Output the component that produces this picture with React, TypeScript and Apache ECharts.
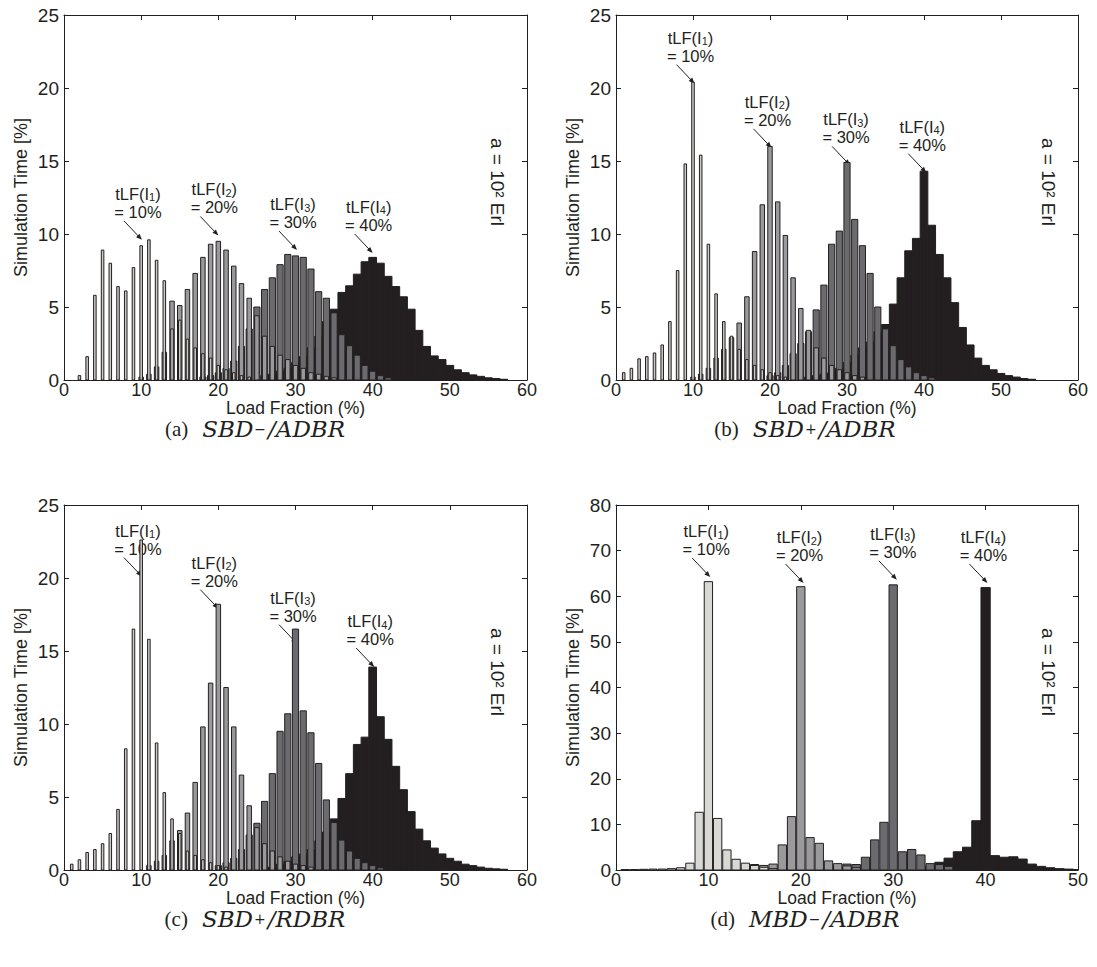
import React, { useEffect, useRef } from "react";
import * as echarts from "echarts";

type P = [number, number];

// ---------- data (load fraction %, simulation time %) ----------
const a_I1: P[] = [[2,0.3],[3,1.6],[4,5.8],[5,8.9],[6,8.0],[7,6.4],[8,6.1],[9,7.7],[10,9.2],[11,9.6],[12,8.2],[13,6.8],[14,3.5],[15,4.1],[16,2.8],[17,2.2],[18,1.8],[19,1.5],[20,1.0],[21,0.7],[22,0.5],[23,0.3],[24,0.2]];
const a_I2: P[] = [[10,0.2],[11,0.4],[12,0.9],[13,1.9],[14,5.4],[15,5.1],[16,6.2],[17,7.3],[18,8.4],[19,9.3],[20,9.5],[21,8.9],[22,7.8],[23,6.6],[24,5.6],[25,4.4],[26,3.0],[27,2.3],[28,1.7],[29,1.4],[30,1.0],[31,0.8],[32,0.5],[33,0.4],[34,0.25],[35,0.15]];
const a_I3: P[] = [[18,0.2],[19,0.3],[20,0.5],[21,0.8],[22,1.3],[23,2.3],[24,3.5],[25,5.0],[26,6.2],[27,7.0],[28,7.9],[29,8.6],[30,8.5],[31,8.4],[32,7.6],[33,6.05],[34,5.6],[35,4.6],[36,3.1],[37,2.35],[38,1.7],[39,1.0],[40,0.6],[41,0.3],[42,0.15]];
const a_I4: P[] = [[26,0.3],[27,0.4],[28,0.6],[29,0.8],[30,1.2],[31,1.6],[32,2.2],[33,3.0],[34,4.0],[35,4.85],[36,6.0],[37,6.45],[38,7.25],[39,8.1],[40,8.4],[41,8.0],[42,7.1],[43,6.4],[44,5.7],[45,4.85],[46,3.4],[47,2.3],[48,1.65],[49,1.4],[50,1.0],[51,0.7],[52,0.5],[53,0.35],[54,0.25],[55,0.15],[56,0.1],[57,0.05]];

const b_I1: P[] = [[1,0.5],[2,0.8],[3,1.45],[4,1.6],[5,1.85],[6,2.4],[7,4.0],[8,7.5],[9,14.8],[10,20.4],[11,15.4],[12,9.3],[13,5.9],[14,4.0],[15,3.0],[16,2.1],[17,1.4],[18,1.0],[19,0.7],[20,0.5],[21,0.3],[22,0.2]];
const b_I2: P[] = [[10,0.2],[11,0.4],[12,0.8],[13,1.5],[14,2.1],[15,2.9],[16,3.9],[17,5.7],[18,8.8],[19,12.0],[20,16.0],[21,12.2],[22,9.9],[23,7.0],[24,4.9],[25,3.4],[26,2.2],[27,1.5],[28,1.0],[29,0.7],[30,0.5],[31,0.3],[32,0.2]];
const b_I3: P[] = [[20,0.3],[21,0.5],[22,1.0],[23,1.8],[24,2.5],[25,3.3],[26,4.8],[27,6.5],[28,9.3],[29,10.2],[30,14.9],[31,11.0],[32,9.2],[33,7.3],[34,5.0],[35,3.5],[36,2.35],[37,1.4],[38,0.9],[39,0.5],[40,0.3],[41,0.15]];
const b_I4: P[] = [[25,0.2],[26,0.3],[27,0.4],[28,0.5],[29,0.8],[30,1.2],[31,1.7],[32,2.2],[33,2.6],[34,3.3],[35,3.8],[36,5.2],[37,7.0],[38,8.85],[39,9.7],[40,14.3],[41,10.6],[42,8.6],[43,7.0],[44,5.3],[45,3.6],[46,2.4],[47,1.5],[48,1.0],[49,0.7],[50,0.45],[51,0.3],[52,0.2],[53,0.1],[54,0.05]];

const c_I1: P[] = [[1,0.4],[2,0.7],[3,1.2],[4,1.4],[5,1.8],[6,2.5],[7,4.15],[8,8.3],[9,16.5],[10,22.6],[11,15.8],[12,8.7],[13,5.3],[14,3.5],[15,2.5],[16,1.3],[17,1.0],[18,0.7],[19,0.5],[20,0.3],[21,0.2]];
const c_I2: P[] = [[11,0.3],[12,0.6],[13,1.0],[14,2.0],[15,2.7],[16,3.9],[17,6.0],[18,9.8],[19,12.8],[20,18.2],[21,12.5],[22,9.8],[23,6.5],[24,4.4],[25,2.9],[26,1.8],[27,1.3],[28,0.9],[29,0.6],[30,0.4],[31,0.3],[32,0.2]];
const c_I3: P[] = [[20,0.3],[21,0.5],[22,0.8],[23,1.4],[24,2.4],[25,3.2],[26,4.7],[27,6.6],[28,9.5],[29,10.7],[30,16.5],[31,10.9],[32,9.4],[33,7.3],[34,4.8],[35,3.25],[36,2.05],[37,1.3],[38,0.8],[39,0.5],[40,0.3],[41,0.15]];
const c_I4: P[] = [[27,0.2],[28,0.4],[29,0.6],[30,0.9],[31,1.1],[32,1.4],[33,2.0],[34,2.6],[35,3.5],[36,4.9],[37,6.6],[38,8.6],[39,9.1],[40,13.9],[41,10.5],[42,8.95],[43,7.1],[44,5.5],[45,4.0],[46,2.8],[47,2.0],[48,1.5],[49,1.1],[50,0.8],[51,0.6],[52,0.4],[53,0.3],[54,0.2],[55,0.12],[56,0.08],[57,0.05]];

const d_I1: P[] = [[1,0.1],[2,0.1],[3,0.15],[4,0.2],[5,0.2],[6,0.3],[7,0.5],[8,1.5],[9,12.65],[10,63.2],[11,11.3],[12,4.4],[13,2.35],[14,1.5],[15,1.0],[16,0.6],[17,0.3]];
const d_I2: P[] = [[14,0.5],[15,1.2],[16,1.0],[17,1.3],[18,5.5],[19,11.7],[20,62.1],[21,7.1],[22,5.85],[23,2.0],[24,1.4],[25,0.9],[26,0.5]];
const d_I3: P[] = [[24,0.6],[25,1.3],[26,1.2],[27,2.8],[28,6.6],[29,10.45],[30,62.5],[31,4.0],[32,4.5],[33,3.3],[34,1.4],[35,1.2],[36,0.8]];
const d_I4: P[] = [[34,0.8],[35,1.7],[36,2.6],[37,4.0],[38,5.0],[39,10.8],[40,61.9],[41,3.15],[42,2.8],[43,2.9],[44,2.4],[45,1.3],[46,0.8],[47,0.5],[48,0.3],[49,0.2],[50,0.1]];

// annotation arrow tips (data coordinates)
const a_tips: P[] = [[10.1, 9.6], [20, 9.9], [30.2, 8.9], [40, 8.7]];
const b_tips: P[] = [[10.2, 20.3], [20.2, 15.9], [30.4, 14.7], [40.3, 14.2]];
const c_tips: P[] = [[10.1, 20.1], [20, 17.9], [30.2, 15.5], [40.2, 13.9]];
const d_tips: P[] = [[10.2, 64.2], [20.3, 62.9], [30.4, 63.6], [40.2, 62.9]];

const linkIndices = ["1", "2", "3", "4"];
const tLFValues = ["10%", "20%", "30%", "40%"];
const xMaxes = [60, 60, 60, 50];
const yMaxes = [25, 25, 25, 80];
const yIntervals = [5, 5, 5, 10];
const captionLetters = ["(a)", "(b)", "(c)", "(d)"];
const captionSigns = ["−", "+", "+", "−"];
const captionHead = ["SBD", "SBD", "SBD", "MBD"];
const captionTail = ["/ADBR", "/ADBR", "/RDBR", "/ADBR"];
const xName = "Load Fraction (%)";
const yName = "Simulation Time [%]";

const panels: P[][][] = [
  [a_I1, a_I2, a_I3, a_I4],
  [b_I1, b_I2, b_I3, b_I4],
  [c_I1, c_I2, c_I3, c_I4],
  [d_I1, d_I2, d_I3, d_I4],
];
const panelTips = [a_tips, b_tips, c_tips, d_tips];

// ---------- styles ----------
const INK = "#231f20";
const FILLS_HIST = ["#c9c9c5", "#9a9a9c", "#6b6b6f", "#231f20"];
const FILLS_MBD = ["#d9d9d4", "#9a9a9c", "#6b6b6f", "#231f20"];
const WIDTHS_HIST = [0.33, 0.58, 0.8, 1.0];
const WIDTHS_MBD = [0.9, 0.9, 0.9, 1.0];
const SANS = "'Liberation Sans', Arial, Helvetica, sans-serif";
const gridRects = [
  { left: 64, top: 15, width: 463, height: 365 },
  { left: 616, top: 15, width: 462, height: 365 },
  { left: 64, top: 505, width: 463, height: 365 },
  { left: 616, top: 505, width: 462, height: 365 },
];
const CAPTION_DROP = 49; // caption centre below the plot's bottom edge
const captionX = [255, 805, 255, 805];

function makeRender(w: number, fill: string, stroke: string) {
  return (_params: any, api: any) => {
    const x = api.value(0);
    const y = api.value(1);
    const p0 = api.coord([x - w / 2, y]);
    const p1 = api.coord([x + w / 2, 0]);
    return {
      type: "rect",
      shape: { x: p0[0], y: p0[1], width: p1[0] - p0[0], height: p1[1] - p0[1] },
      style: { fill, stroke, lineWidth: 1 },
    };
  };
}

export default function App() {
  const ref = useRef<HTMLDivElement>(null);
  useEffect(() => {
    const chart = echarts.init(ref.current!, undefined, { renderer: "svg" });
    const axisLine = { show: true, onZero: false, lineStyle: { color: INK, width: 1 } };
    const axisTick = { show: true, inside: true, length: 5, lineStyle: { color: INK, width: 1 } };
    const xAxis: any[] = [];
    const yAxis: any[] = [];
    gridRects.forEach((_, i) => {
      xAxis.push({
        type: "value", gridIndex: i, position: "bottom", min: 0, max: xMaxes[i], interval: 10,
        axisLine, axisTick, splitLine: { show: false },
        axisLabel: { fontSize: 18, lineHeight: 14, color: INK, fontFamily: SANS, margin: 3 },
        name: xName, nameLocation: "middle", nameGap: 21, nameMoveOverlap: false,
        nameTextStyle: { fontSize: 17.5, lineHeight: 14, color: INK, fontFamily: SANS },
      });
      yAxis.push({
        type: "value", gridIndex: i, position: "left", min: 0, max: yMaxes[i], interval: yIntervals[i],
        axisLine, axisTick, splitLine: { show: false },
        axisLabel: { fontSize: 19, color: INK, fontFamily: SANS, margin: 5 },
        name: yName, nameLocation: "middle", nameGap: 34, nameRotate: 90, nameMoveOverlap: false,
        nameTextStyle: { fontSize: 18, color: INK, fontFamily: SANS },
      });
    });
    gridRects.forEach((_, i) => {
      xAxis.push({
        type: "value", gridIndex: i, position: "top", min: 0, max: xMaxes[i], interval: 10,
        axisLine, axisTick, splitLine: { show: false }, axisLabel: { show: false },
      });
      yAxis.push({
        type: "value", gridIndex: i, position: "right", min: 0, max: yMaxes[i], interval: yIntervals[i],
        axisLine, axisTick, splitLine: { show: false }, axisLabel: { show: false },
      });
    });

    const series: any[] = [];
    panels.forEach((sets, pi) => {
      const widths = pi === 3 ? WIDTHS_MBD : WIDTHS_HIST;
      const fills = pi === 3 ? FILLS_MBD : FILLS_HIST;
      // draw I4 first (bottom), I1 last (top)
      for (let k = 3; k >= 0; k--) {
        series.push({
          type: "custom",
          name: `tLF(I${linkIndices[k]})`,
          xAxisIndex: pi, yAxisIndex: pi,
          data: sets[k],
          encode: { x: 0, y: 1 },
          clip: true, silent: true,
          renderItem: makeRender(widths[k], fills[k], INK),
        });
      }
    });

    chart.setOption({
      animation: false,
      backgroundColor: "#ffffff",
      grid: gridRects.map((r) => ({ ...r, containLabel: false })),
      xAxis, yAxis, series,
    });

    const graphic: any[] = [];
    panelTips.forEach((tips, pi) => {
      tips.forEach((t, k) => {
        const p = chart.convertToPixel({ xAxisIndex: pi, yAxisIndex: pi } as any, t) as number[];
        const tx = p[0] - 18, ty = p[1] - 19;
        const dx = p[0] - tx, dy = p[1] - ty;
        const len = Math.hypot(dx, dy);
        const ux = dx / len, uy = dy / len;
        const L = 6, W = 2.4;
        graphic.push({
          type: "line", silent: true,
          shape: { x1: tx, y1: ty, x2: p[0] - ux * 3, y2: p[1] - uy * 3 },
          style: { stroke: INK, lineWidth: 1 },
        });
        graphic.push({
          type: "polygon", silent: true,
          shape: { points: [[p[0], p[1]], [p[0] - ux * L - uy * W, p[1] - uy * L + ux * W], [p[0] - ux * L + uy * W, p[1] - uy * L - ux * W]] },
          style: { fill: INK },
        });
        graphic.push({
          type: "text", silent: true,
          x: p[0] - 4, y: p[1] - 37,
          style: {
            text: `tLF(I{s|${linkIndices[k]}})\n= ${tLFValues[k]}`,
            align: "center", verticalAlign: "middle",
            fontSize: 16.5, lineHeight: 18, fontFamily: SANS, fill: INK,
            rich: { s: { fontSize: 11, lineHeight: 11, verticalAlign: "bottom", fontFamily: SANS, fill: INK } },
          },
        });
      });
      const r = gridRects[pi];
      graphic.push({
        type: "text", silent: true,
        x: r.left + r.width - 30, y: r.top + 167, rotation: -Math.PI / 2,
        style: { text: "a = 10² Erl", align: "center", verticalAlign: "middle", fontSize: 19, fontFamily: SANS, fill: INK },
      });
      graphic.push({
        type: "text", silent: true,
        x: captionX[pi], y: r.top + r.height + CAPTION_DROP,
        style: {
          text: `{n|${captionLetters[pi]}}{m|${captionHead[pi]}}{u|${captionSigns[pi]}}{m|${captionTail[pi]}}`,
          align: "center", verticalAlign: "middle", fill: INK,
          rich: {
            n: { fontSize: 21, fontFamily: "'Liberation Serif', 'DejaVu Serif', serif", fill: INK, lineHeight: 14, padding: [0, 14, 0, 0] },
            m: { fontSize: 23, fontStyle: "italic", fontFamily: "'DejaVu Serif', serif", fill: INK, lineHeight: 14 },
            u: { fontSize: 14, fontFamily: "'DejaVu Serif', serif", fill: INK, verticalAlign: "top", lineHeight: 10, padding: [0, 2, 0, 1] },
          },
        },
      });
    });
    chart.setOption({ graphic });

    return () => chart.dispose();
  }, []);
  return (
    <div
      ref={ref}
      style={{ position: "absolute", left: 0, top: 0, width: 1097, height: 967, background: "#fff" }}
    />
  );
}
